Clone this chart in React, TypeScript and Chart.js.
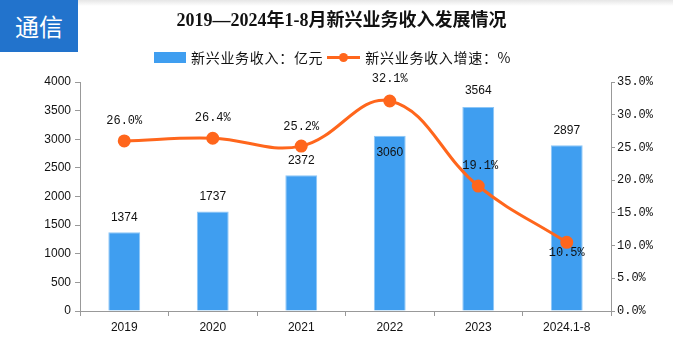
import React, { useEffect, useRef } from "react";
import { Chart, registerables } from "chart.js";

Chart.register(...registerables);

const categories = ["2019", "2020", "2021", "2022", "2023", "2024.1-8"];
const revenue = [1374, 1737, 2372, 3060, 3564, 2897];
const growth = [26.0, 26.4, 25.2, 32.1, 19.1, 10.5];
const titleText = "2019—2024年1-8月新兴业务收入发展情况";
const barLabel = "新兴业务收入：亿元";
const lineLabel = "新兴业务收入增速：%";
const badgeText = "通信";

const BLUE = "#3f9ef0";
const ORANGE = "#ff661c";

// label placement: [dx, dy] relative to mark
const barLabelOffset = [-15, -15, -15, 17, -16, -14];
const lineLabelOffset: [number, number][] = [
  [0, -20],
  [0, -20],
  [0, -19],
  [0, -22],
  [2, -20],
  [0, 11],
];

const labelPlugin = {
  id: "valueLabels",
  afterDatasetsDraw(chart: any) {
    const ctx = chart.ctx;
    ctx.save();
    ctx.fillStyle = "#111";
    ctx.textAlign = "center";
    ctx.textBaseline = "middle";
    ctx.font = "12px 'Liberation Sans', Arial, sans-serif";
    const barMeta = chart.getDatasetMeta(0);
    barMeta.data.forEach((el: any, i: number) => {
      ctx.fillText(String(revenue[i]), el.x, el.y + barLabelOffset[i]);
    });
    const lineMeta = chart.getDatasetMeta(1);
    ctx.font = "12px 'Liberation Mono', monospace";
    lineMeta.data.forEach((el: any, i: number) => {
      const [dx, dy] = lineLabelOffset[i];
      ctx.fillText(growth[i].toFixed(1) + "%", el.x + dx, el.y + dy);
    });
    ctx.restore();
  },
};

export default function App() {
  const ref = useRef<HTMLCanvasElement>(null);
  useEffect(() => {
    if (!ref.current) return;
    const chart = new Chart(ref.current, {
      type: "bar",
      data: {
        labels: categories,
        datasets: [
          {
            type: "bar",
            label: barLabel,
            data: revenue,
            backgroundColor: BLUE,
            borderColor: "#8cc6f7",
            borderWidth: 1,
            barPercentage: 0.36,
            categoryPercentage: 1,
            yAxisID: "y",
            order: 2,
          },
          {
            type: "line",
            label: lineLabel,
            data: growth,
            borderColor: ORANGE,
            backgroundColor: ORANGE,
            borderWidth: 3,
            pointRadius: 5,
            pointHoverRadius: 5,
            pointBackgroundColor: ORANGE,
            pointBorderColor: ORANGE,
            tension: 0.4,
            yAxisID: "y1",
            order: 1,
          },
        ],
      },
      options: {
        responsive: false,
        animation: false,
        layout: { padding: { top: 82, left: 0, right: 0, bottom: 0 } },
        plugins: {
          legend: { display: false },
          title: { display: false },
          tooltip: { enabled: false },
        },
        scales: {
          x: {
            grid: {
              display: true,
              drawOnChartArea: false,
              offset: true,
              tickLength: 5,
              color: "#999",
            },
            border: { color: "#999" },
            ticks: {
              color: "#111",
              font: { family: "'Liberation Sans', Arial, sans-serif", size: 12 },
              padding: 4,
            },
            afterFit: (s: any) => {
              s.height = 36;
            },
          },
          y: {
            position: "left",
            min: 0,
            max: 4000,
            ticks: {
              stepSize: 500,
              color: "#111",
              font: { family: "'Liberation Sans', Arial, sans-serif", size: 12 },
              padding: 4,
              callback: (v: any) => String(v),
            },
            grid: { drawOnChartArea: false, tickLength: 5, color: "#999" },
            border: { color: "#999" },
            afterFit: (s: any) => {
              s.width = 80;
            },
          },
          y1: {
            position: "right",
            min: 0,
            max: 35,
            ticks: {
              stepSize: 5,
              color: "#111",
              font: { family: "'Liberation Mono', monospace", size: 12 },
              padding: 2,
              callback: (v: any) => Number(v).toFixed(1) + "%",
            },
            grid: { drawOnChartArea: false, tickLength: 4, color: "#999" },
            border: { color: "#999" },
            afterFit: (s: any) => {
              s.width = 62;
            },
          },
        },
      },
      plugins: [labelPlugin],
    });
    return () => chart.destroy();
  }, []);

  return (
    <div
      style={{
        position: "absolute",
        left: 0,
        top: 0,
        width: 673,
        height: 347,
        background: "#fff",
        overflow: "hidden",
        fontFamily: "'Noto Sans CJK SC', sans-serif",
      }}
    >
      <div
        style={{
          position: "absolute",
          left: 78,
          top: 0,
          width: 595,
          height: 6,
          background: "linear-gradient(#e6e6e6, #ffffff)",
        }}
      />
      <canvas ref={ref} width={673} height={347} style={{ position: "absolute", left: 0, top: 0 }} />
      <div
        style={{
          position: "absolute",
          left: 0,
          top: 0,
          width: 78,
          height: 52,
          background: "#2273cc",
          color: "#fff",
          fontSize: 24,
          lineHeight: "52px",
          textAlign: "center",
        }}
      >
        {badgeText}
      </div>
      <div
        style={{
          position: "absolute",
          left: 0,
          width: 683,
          top: 8,
          textAlign: "center",
          fontSize: 18,
          fontWeight: "bold",
          color: "#111",
          fontFamily: "'Liberation Serif', 'Noto Sans CJK SC', serif",
          lineHeight: "24px",
        }}
      >
        {titleText}
      </div>
      <div
        style={{
          position: "absolute",
          left: 154,
          top: 47,
          height: 20,
          display: "flex",
          alignItems: "center",
          fontSize: 14,
          letterSpacing: 0.7,
          color: "#111",
          whiteSpace: "nowrap",
        }}
      >
        <span style={{ display: "inline-block", width: 32, height: 11, background: BLUE, marginRight: 5 }} />
        <span>{barLabel}</span>
        <span style={{ position: "relative", display: "inline-block", width: 33, height: 11, marginLeft: 4, marginRight: 5 }}>
          <span style={{ position: "absolute", left: 0, top: 4, width: 33, height: 3, background: ORANGE }} />
          <span style={{ position: "absolute", left: 12, top: 1, width: 9, height: 9, borderRadius: 5, background: ORANGE }} />
        </span>
        <span>{lineLabel}</span>
      </div>
    </div>
  );
}
